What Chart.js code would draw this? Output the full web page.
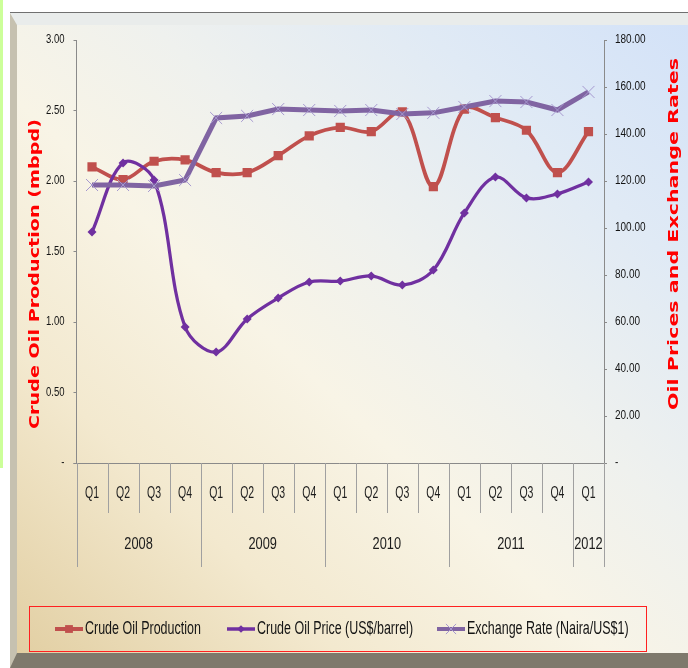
<!DOCTYPE html>
<html>
<head>
<meta charset="utf-8">
<title>Crude Oil Production, Oil Price and Exchange Rate</title>
<script src="https://cdn.jsdelivr.net/npm/chart.js@4.4.1/dist/chart.umd.min.js"></script>
<style>
  html, body { margin: 0; padding: 0; background: #fff; width: 688px; height: 668px; overflow: hidden; }
  #strip { position: absolute; left: 0; top: 0; width: 3px; height: 468px; background: #ccff99; }
  #panel { position: absolute; left: 10px; top: 12px; width: 678px; height: 656px; box-sizing: border-box; border-top: 1px solid #707070; }
  #face {
    position: absolute; left: 0; top: 0; right: 0; bottom: 0; box-sizing: border-box;
    border-left: 7px solid #c6c1b0; border-top: 12px solid #e9eceb; border-bottom: 15px solid #7e796c;
    background: linear-gradient(to top right, #e2cfa3 0%, #f3e9cf 24%, #f8f4e6 44%, #eff1ee 60%, #e0eaf5 80%, #d3e2f8 100%);
  }
  canvas { position: absolute; left: 0; top: 0; }
</style>
</head>
<body>
<div id="strip"></div>
<div id="panel"><div id="face"></div></div>
<canvas id="chart" width="688" height="668"></canvas>
<script>
// Quarters and the year each group of quarters belongs to
const quarters = ['Q1','Q2','Q3','Q4','Q1','Q2','Q3','Q4','Q1','Q2','Q3','Q4','Q1','Q2','Q3','Q4','Q1'];
const years = ['2008','2009','2010','2011','2012'];
const yearSpans = [4, 4, 4, 4, 1];

// Crude oil production, million barrels per day (left axis)
const production = [2.10, 2.01, 2.14, 2.15, 2.06, 2.06, 2.18, 2.32, 2.38, 2.35, 2.49, 1.96, 2.51, 2.45, 2.36, 2.06, 2.35];
// Crude oil price, US$ per barrel (right axis)
const oilPrice = [98.3, 127.7, 120.4, 57.9, 47.2, 61.3, 70.2, 77.0, 77.4, 79.6, 75.7, 82.1, 106.4, 121.7, 112.8, 114.5, 119.6];
// Exchange rate, Naira per US$1 (right axis)
const exchangeRate = [118.3, 118.3, 117.9, 120.4, 146.8, 147.7, 150.6, 150.2, 149.8, 150.2, 148.5, 149.0, 151.5, 154.0, 153.6, 150.2, 157.9];

// Axis tick values
const leftTicks = [0, 0.5, 1.0, 1.5, 2.0, 2.5, 3.0];
const rightTicks = [0, 20, 40, 60, 80, 100, 120, 140, 160, 180];

// Build one category label per quarter ("2008 Q1", ...)
const yearOfQuarter = [];
years.forEach((y, i) => { for (let k = 0; k < yearSpans[i]; k++) yearOfQuarter.push(y); });
const categories = quarters.map((q, i) => yearOfQuarter[i] + ' ' + q);

const fmt = v => (v === 0 ? '-' : v.toFixed(2));
const FONT = '"Liberation Sans", Arial, sans-serif';

// Text drawn in a condensed, slightly tall style
function drawText(ctx, txt, x, y, size, align, sx, sy, color) {
  ctx.save();
  ctx.translate(x, y);
  ctx.scale(sx, sy);
  ctx.font = size + 'px ' + FONT;
  ctx.textAlign = align;
  ctx.textBaseline = 'middle';
  ctx.fillStyle = color;
  ctx.fillText(txt, 0, 0);
  ctx.restore();
}

function drawRotatedTitle(ctx, txt, cx, cy, length) {
  ctx.save();
  ctx.translate(cx, cy);
  ctx.rotate(-Math.PI / 2);
  ctx.font = 'bold 14.5px "DejaVu Sans"';
  const w = ctx.measureText(txt).width;
  ctx.scale(length / w, 1);
  ctx.textAlign = 'center';
  ctx.textBaseline = 'middle';
  ctx.fillStyle = '#ff0000';
  ctx.fillText(txt, 0, 0);
  ctx.restore();
}

function drawMarker(ctx, style, x, y, r, fill, stroke, lw) {
  ctx.save();
  ctx.beginPath();
  if (style === 'rect') {
    const s = r * Math.SQRT1_2;
    ctx.rect(x - s, y - s, 2 * s, 2 * s);
    ctx.fillStyle = fill; ctx.fill();
  } else if (style === 'rectRot') {
    ctx.moveTo(x, y - r); ctx.lineTo(x + r, y); ctx.lineTo(x, y + r); ctx.lineTo(x - r, y); ctx.closePath();
    ctx.fillStyle = fill; ctx.fill();
  } else if (style === 'crossRot') {
    const s = r * Math.SQRT1_2;
    ctx.moveTo(x - s, y - s); ctx.lineTo(x + s, y + s);
    ctx.moveTo(x + s, y - s); ctx.lineTo(x - s, y + s);
    ctx.strokeStyle = stroke; ctx.lineWidth = lw; ctx.stroke();
  }
  ctx.restore();
}

// Value labels, two-level category axis, axis titles and the boxed legend
const decorations = {
  id: 'decorations',
  afterDraw(chart) {
    const ctx = chart.ctx;
    const area = chart.chartArea;
    const x = chart.scales.x;
    const yL = chart.scales.yLeft;
    const yR = chart.scales.yRight;
    const n = categories.length;
    const half = (x.getPixelForValue(1) - x.getPixelForValue(0)) / 2;
    const bottom = area.bottom;

    ctx.save();

    // value axis labels
    leftTicks.forEach(v => drawText(ctx, fmt(v), area.left - 12, yL.getPixelForValue(v), 12.5, 'right', 0.76, 1.0, '#141414'));
    rightTicks.forEach(v => drawText(ctx, fmt(v), area.right + 11, yR.getPixelForValue(v), 12.5, 'left', 0.8, 1.0, '#141414'));

    // category axis line
    ctx.strokeStyle = '#8a8a8a';
    ctx.lineWidth = 1;
    ctx.beginPath();
    ctx.moveTo(area.left - 3, Math.round(bottom) + 0.5);
    ctx.lineTo(area.right + 2, Math.round(bottom) + 0.5);
    ctx.stroke();

    // year boundaries (start index of each group, plus the end)
    const bounds = [0];
    yearSpans.forEach(s => bounds.push(bounds[bounds.length - 1] + s));

    ctx.strokeStyle = '#a0a0a0';
    for (let i = 0; i <= n; i++) {
      const px = Math.round(x.getPixelForValue(i) - half) + 0.5;
      const isYear = bounds.includes(i);
      ctx.beginPath();
      ctx.moveTo(px, bottom);
      ctx.lineTo(px, isYear ? bottom + 104 : bottom + 50);
      ctx.stroke();
    }

    // quarter labels
    quarters.forEach((q, i) => {
      drawText(ctx, q, x.getPixelForValue(i), bottom + 31, 14, 'center', 0.75, 1.12, '#1c1c1c');
    });
    // year labels, centred under their quarters
    years.forEach((y, k) => {
      const a = x.getPixelForValue(bounds[k]) - half;
      const b = x.getPixelForValue(bounds[k + 1] - 1) + half;
      drawText(ctx, y, (a + b) / 2, bottom + 81, 16, 'center', 0.8, 1.08, '#1c1c1c');
    });

    // axis titles
    drawRotatedTitle(ctx, 'Crude Oil Production (mbpd)', 35, 274, 310);
    drawRotatedTitle(ctx, 'Oil Prices and Exchange Rates', 674, 234, 352);

    // legend box
    ctx.strokeStyle = '#ff2020';
    ctx.lineWidth = 1;
    ctx.strokeRect(29.5, 606.5, 617, 45);

    const legendY = 629;
    const items = [
      { ds: 0, x0: 55 },
      { ds: 1, x0: 227 },
      { ds: 2, x0: 437 }
    ];
    items.forEach(it => {
      const d = chart.data.datasets[it.ds];
      ctx.save();
      ctx.strokeStyle = d.borderColor;
      ctx.lineWidth = d.legendLineWidth;
      ctx.lineCap = 'butt';
      ctx.beginPath();
      ctx.moveTo(it.x0, legendY);
      ctx.lineTo(it.x0 + 28, legendY);
      ctx.stroke();
      ctx.restore();
      drawMarker(ctx, d.pointStyle, it.x0 + 14, legendY, d.pointRadius * 0.85, d.pointBackgroundColor, d.pointBorderColor, d.pointBorderWidth);
      drawText(ctx, d.label, it.x0 + 30, legendY, 16, 'left', 0.78, 1.1, '#141414');
    });
    ctx.restore();
  }
};

new Chart(document.getElementById('chart'), {
  type: 'line',
  data: {
    labels: categories,
    datasets: [
      {
        label: 'Crude Oil Production',
        data: production,
        yAxisID: 'yLeft',
        order: 2,
        borderColor: '#c0504d',
        borderWidth: 3.75,
        legendLineWidth: 4,
        tension: 0.35,
        pointStyle: 'rect',
        pointRadius: 6.5,
        pointBackgroundColor: '#c0504d',
        pointBorderColor: '#c0504d',
        pointBorderWidth: 0
      },
      {
        label: 'Crude Oil Price (US$/barrel)',
        data: oilPrice,
        yAxisID: 'yRight',
        order: 1,
        borderColor: '#7030a0',
        borderWidth: 3.25,
        legendLineWidth: 3.5,
        tension: 0.35,
        pointStyle: 'rectRot',
        pointRadius: 4.5,
        pointBackgroundColor: '#7030a0',
        pointBorderColor: '#7030a0',
        pointBorderWidth: 0
      },
      {
        label: 'Exchange Rate (Naira/US$1)',
        data: exchangeRate,
        yAxisID: 'yRight',
        order: 0,
        borderColor: '#8064a2',
        borderWidth: 5,
        legendLineWidth: 4,
        tension: 0,
        pointStyle: 'crossRot',
        pointRadius: 8.5,
        pointBackgroundColor: 'rgba(0,0,0,0)',
        pointBorderColor: '#a698cf',
        pointBorderWidth: 1
      }
    ]
  },
  options: {
    responsive: false,
    animation: false,
    events: [],
    layout: { padding: { left: 0, right: 0, top: 40, bottom: 100 } },
    plugins: { legend: { display: false }, tooltip: { enabled: false } },
    scales: {
      x: {
        type: 'category',
        offset: true,
        grid: { display: false },
        border: { display: false },
        ticks: { display: false },
        afterFit(s) { s.height = 105; }
      },
      yLeft: {
        position: 'left',
        min: leftTicks[0],
        max: leftTicks[leftTicks.length - 1],
        afterBuildTicks(s) { s.ticks = leftTicks.map(v => ({ value: v })); },
        ticks: { display: false },
        grid: { drawOnChartArea: false, drawTicks: true, tickLength: 3, color: '#8a8a8a' },
        border: { color: '#8a8a8a' },
        afterFit(s) { s.width = 76.5; }
      },
      yRight: {
        position: 'right',
        min: rightTicks[0],
        max: rightTicks[rightTicks.length - 1],
        afterBuildTicks(s) { s.ticks = rightTicks.map(v => ({ value: v })); },
        ticks: { display: false },
        grid: { drawOnChartArea: false, drawTicks: true, tickLength: 3, color: '#8a8a8a' },
        border: { color: '#8a8a8a' },
        afterFit(s) { s.width = 84; }
      }
    }
  },
  plugins: [decorations]
});
</script>
</body>
</html>
